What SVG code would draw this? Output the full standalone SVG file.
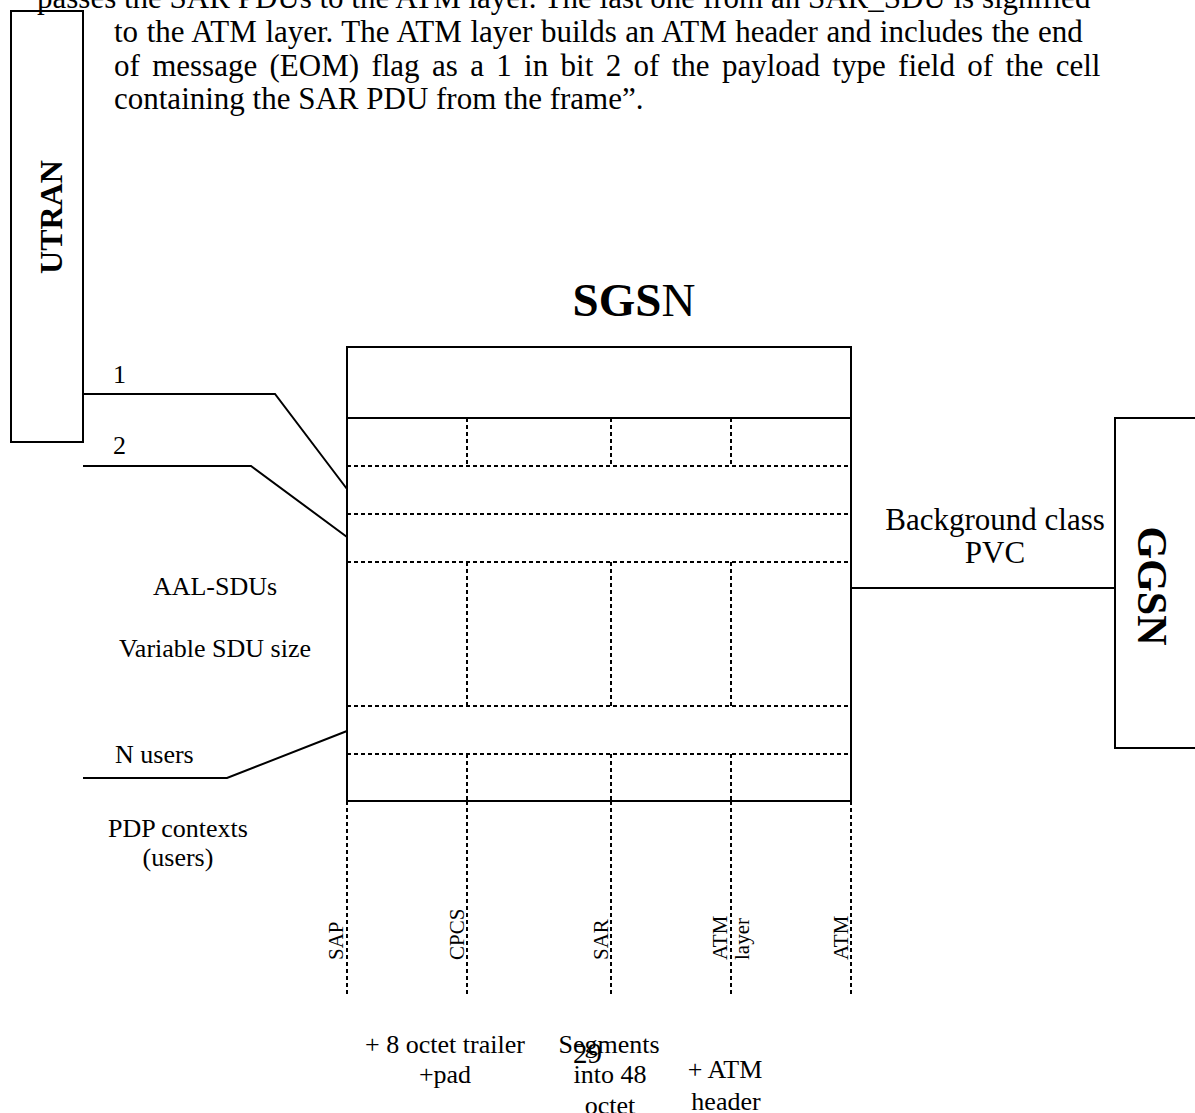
<svg xmlns="http://www.w3.org/2000/svg" width="1195" height="1113" viewBox="0 0 1195 1113">
<style>
text{font-family:"Liberation Serif","Times New Roman",serif;fill:#000}
.body{font-size:31px}
.lbl{font-size:26px}
.vl{font-size:21px}
.solid{fill:none;stroke:#000;stroke-width:2}
.dot{fill:none;stroke:#000;stroke-width:2;stroke-dasharray:4 3}
.b{font-weight:bold}
</style>
<rect width="1195" height="1113" fill="#fff"/>
<g id="paragraph">
<text class="body" x="37" y="8" word-spacing="0">passes the SAR PDUs to the ATM layer. The last one from an SAR_SDU is signified</text>
<text class="body" x="114" y="42" word-spacing="0.8">to the ATM layer. The ATM layer builds an ATM header and includes the end</text>
<text class="body" x="114" y="76" word-spacing="4.6">of message (EOM) flag as a 1 in bit 2 of the payload type field of the cell</text>
<text class="body" x="114" y="109">containing the SAR PDU from the frame”.</text>
</g>
<g id="utran">
<rect class="solid" x="11" y="11" width="72" height="431"/>
<text class="b" font-size="32" text-anchor="middle" transform="translate(62,217) rotate(-90)">UTRAN</text>
</g>
<g id="ggsn">
<rect class="solid" x="1115" y="418" width="100" height="330"/>
<text class="b" font-size="42" text-anchor="middle" transform="translate(1138,586) rotate(90)">GGSN</text>
</g>
<g id="sgsn">
<text text-anchor="middle" x="634" y="316" font-size="47"><tspan class="b">SGS</tspan>N</text>
<rect class="solid" x="347" y="347" width="504" height="454"/>
<line class="solid" x1="347" y1="418" x2="851" y2="418"/>
<path class="dot" d="M347 466H851M347 514H851M347 562H851M347 706H851M347 754H851"/>
<path class="dot" d="M467 418V466M611 418V466M731 418V466M467 562V706M611 562V706M731 562V706M467 754V801M611 754V801M731 754V801"/>
</g>
<g id="layers">
<path class="dot" d="M347 801V995M467 801V995M611 801V995M731 801V995M851 801V995"/>
<text class="vl" transform="translate(343,960) rotate(-90)">SAP</text>
<text class="vl" transform="translate(464,960) rotate(-90)">CPCS</text>
<text class="vl" transform="translate(608,960) rotate(-90)">SAR</text>
<text class="vl" transform="translate(727,960) rotate(-90)">ATM</text>
<text class="vl" transform="translate(749,960) rotate(-90)">layer</text>
<text class="vl" transform="translate(848,960) rotate(-90)">ATM</text>
</g>
<g id="connectors">
<polyline class="solid" points="83,394 275,394 347,489"/>
<polyline class="solid" points="83,466 251,466 347,537"/>
<polyline class="solid" points="83,778 227,778 347,731"/>
<line class="solid" x1="851" y1="588" x2="1115" y2="588"/>
</g>
<g id="labels">
<text class="lbl" x="113" y="383">1</text>
<text class="lbl" x="113" y="454">2</text>
<text class="lbl" x="215" y="595" text-anchor="middle">AAL-SDUs</text>
<text class="lbl" x="215" y="657" text-anchor="middle">Variable SDU size</text>
<text class="lbl" x="115" y="763">N users</text>
<text class="lbl" x="178" y="837" text-anchor="middle">PDP contexts</text>
<text class="lbl" x="178" y="866" text-anchor="middle">(users)</text>
<text font-size="31" x="995" y="530" text-anchor="middle">Background class</text>
<text font-size="31" x="995" y="563" text-anchor="middle">PVC</text>
<text class="lbl" x="445" y="1053" text-anchor="middle">+ 8 octet trailer</text>
<text class="lbl" x="445" y="1083" text-anchor="middle">+pad</text>
<text class="lbl" x="609" y="1053" text-anchor="middle">Segments</text>
<text class="lbl" x="610" y="1083" text-anchor="middle">into 48</text>
<text class="lbl" x="610" y="1114" text-anchor="middle">octet</text>
<text font-size="29" x="573" y="1063">29</text>
<text class="lbl" x="725" y="1078" text-anchor="middle">+ ATM</text>
<text class="lbl" x="726" y="1110" text-anchor="middle">header</text>
</g>
</svg>
